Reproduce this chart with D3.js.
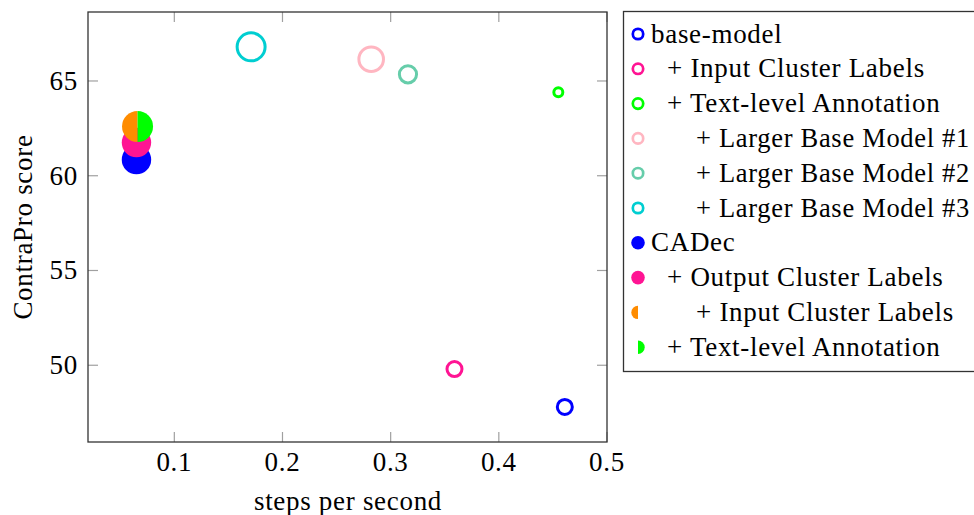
<!DOCTYPE html>
<html>
<head>
<meta charset="utf-8">
<script src="https://cdn.jsdelivr.net/npm/d3@7"></script>
<style>
  body { margin: 0; background: #fff; }
  svg text { font-family: "Liberation Serif", "DejaVu Serif", serif; fill: #000; }
</style>
</head>
<body>
<div id="chart"></div>
<script>
// --- Daten ---
const names = ["base-model", "+ Input Cluster Labels", "+ Text-level Annotation",
  "+ Larger Base Model #1", "+ Larger Base Model #2", "+ Larger Base Model #3",
  "CADec", "+ Output Cluster Labels", "+ Input Cluster Labels", "+ Text-level Annotation"];
const steps = [0.461, 0.359, 0.455, 0.282, 0.316, 0.171, 0.065, 0.065, 0.066, 0.066];
const scores = [47.8, 49.8, 64.4, 66.15, 65.35, 66.8, 60.85, 61.75, 62.6, 62.6];
const bubble = [7.5, 7.5, 4.5, 12.3, 8.6, 14, 14.7, 14.7, 15.5, 15.5];   // Markergröße
const colors = ["#0000ff", "#ff1493", "#00ff00", "#ffb6c1", "#66cdaa", "#00ced1",
  "#0000ff", "#ff1493", "#ff8c00", "#00ff00"];
const kinds = ["ring", "ring", "ring", "ring", "ring", "ring", "dot", "dot", "left", "right"];
const indent = [0, 1, 1, 2, 2, 2, 0, 1, 2, 1];
const xTicks = [0.1, 0.2, 0.3, 0.4, 0.5];
const yTicks = [50, 55, 60, 65];

// --- Layout ---
const W = 974, H = 515;
const plot = { left: 88, top: 12, width: 519, height: 430 };
const fontSize = "27px", spacing = "0.7px";

const svg = d3.select("#chart").append("svg")
  .attr("width", W).attr("height", H);

const x = d3.scaleLinear().domain([0.0202, 0.5]).range([plot.left, plot.left + plot.width]);
const y = d3.scaleLinear().domain([45.95, 68.64]).range([plot.top + plot.height, plot.top]);

// Ticks innen, auch oben und rechts gespiegelt
const tickLen = 10;
const tickColor = "#a0a0a0";
const ticks = svg.append("g");
xTicks.forEach(t => {
  ticks.append("line").attr("x1", x(t)).attr("x2", x(t))
    .attr("y1", y.range()[0]).attr("y2", y.range()[0] - tickLen)
    .attr("stroke", tickColor).attr("stroke-width", 1.2);
  ticks.append("line").attr("x1", x(t)).attr("x2", x(t))
    .attr("y1", y.range()[1]).attr("y2", y.range()[1] + tickLen)
    .attr("stroke", tickColor).attr("stroke-width", 1.2);
  svg.append("text").attr("x", x(t)).attr("y", 471)
    .attr("text-anchor", "middle").style("font-size", fontSize)
    .style("letter-spacing", spacing).text(t.toFixed(1));
});
yTicks.forEach(t => {
  ticks.append("line").attr("x1", x.range()[0]).attr("x2", x.range()[0] + tickLen)
    .attr("y1", y(t)).attr("y2", y(t))
    .attr("stroke", tickColor).attr("stroke-width", 1.2);
  ticks.append("line").attr("x1", x.range()[1]).attr("x2", x.range()[1] - tickLen)
    .attr("y1", y(t)).attr("y2", y(t))
    .attr("stroke", tickColor).attr("stroke-width", 1.2);
  svg.append("text").attr("x", 78).attr("y", y(t) + 9)
    .attr("text-anchor", "end").style("font-size", fontSize)
    .style("letter-spacing", spacing).text(t);
});

// Rahmen
svg.append("rect")
  .attr("x", plot.left).attr("y", plot.top)
  .attr("width", plot.width).attr("height", plot.height)
  .attr("fill", "none").attr("stroke", "#333").attr("stroke-width", 1.3);

// Achsentitel
svg.append("text").attr("x", 348).attr("y", 510)
  .attr("text-anchor", "middle").style("font-size", fontSize)
  .style("letter-spacing", spacing).text("steps per second");
svg.append("text")
  .attr("transform", `translate(32,${plot.top + plot.height / 2}) rotate(-90)`)
  .attr("text-anchor", "middle").style("font-size", fontSize)
  .style("letter-spacing", spacing).text("ContraPro score");

// Punkte
const halfArc = (r, side) => d3.arc().innerRadius(0).outerRadius(r)
  .startAngle(side === "left" ? Math.PI : 0)
  .endAngle(side === "left" ? 2 * Math.PI : Math.PI)();

const marks = svg.append("g");
names.forEach((n, i) => {
  const cx = x(steps[i]), cy = y(scores[i]);
  if (kinds[i] === "ring") {
    marks.append("circle").attr("cx", cx).attr("cy", cy).attr("r", bubble[i])
      .attr("fill", "none").attr("stroke", colors[i]).attr("stroke-width", 3);
  } else if (kinds[i] === "dot") {
    marks.append("circle").attr("cx", cx).attr("cy", cy).attr("r", bubble[i])
      .attr("fill", colors[i]);
  } else {
    marks.append("path").attr("transform", `translate(${cx},${cy})`)
      .attr("d", halfArc(bubble[i], kinds[i])).attr("fill", colors[i]);
  }
});

// Legende
const legend = svg.append("g");
legend.append("rect").attr("x", 623.5).attr("y", 11.5)
  .attr("width", 360).attr("height", 360)
  .attr("fill", "#fff").attr("stroke", "#333").attr("stroke-width", 1.3);
const textX = [651, 667, 696];
const maxRight = 970; // Text soll noch ins Bild passen
names.forEach((n, i) => {
  const cy = 34 + i * 34.8, mx = 638;
  if (kinds[i] === "ring") {
    legend.append("circle").attr("cx", mx).attr("cy", cy).attr("r", 5.2)
      .attr("fill", "none").attr("stroke", colors[i]).attr("stroke-width", 2.7);
  } else if (kinds[i] === "dot") {
    legend.append("circle").attr("cx", mx).attr("cy", cy).attr("r", 6.8)
      .attr("fill", colors[i]);
  } else {
    legend.append("path").attr("transform", `translate(${mx},${cy})`)
      .attr("d", halfArc(6.7, kinds[i])).attr("fill", colors[i]);
  }
  const tx = textX[indent[i]];
  const label = legend.append("text").attr("x", tx).attr("y", cy + 8.5)
    .style("font-size", fontSize).style("letter-spacing", spacing).text(n);
  const len = label.node().getComputedTextLength();
  if (tx + len > maxRight) {
    label.attr("textLength", maxRight - tx).attr("lengthAdjust", "spacingAndGlyphs");
  }
});
</script>
</body>
</html>
